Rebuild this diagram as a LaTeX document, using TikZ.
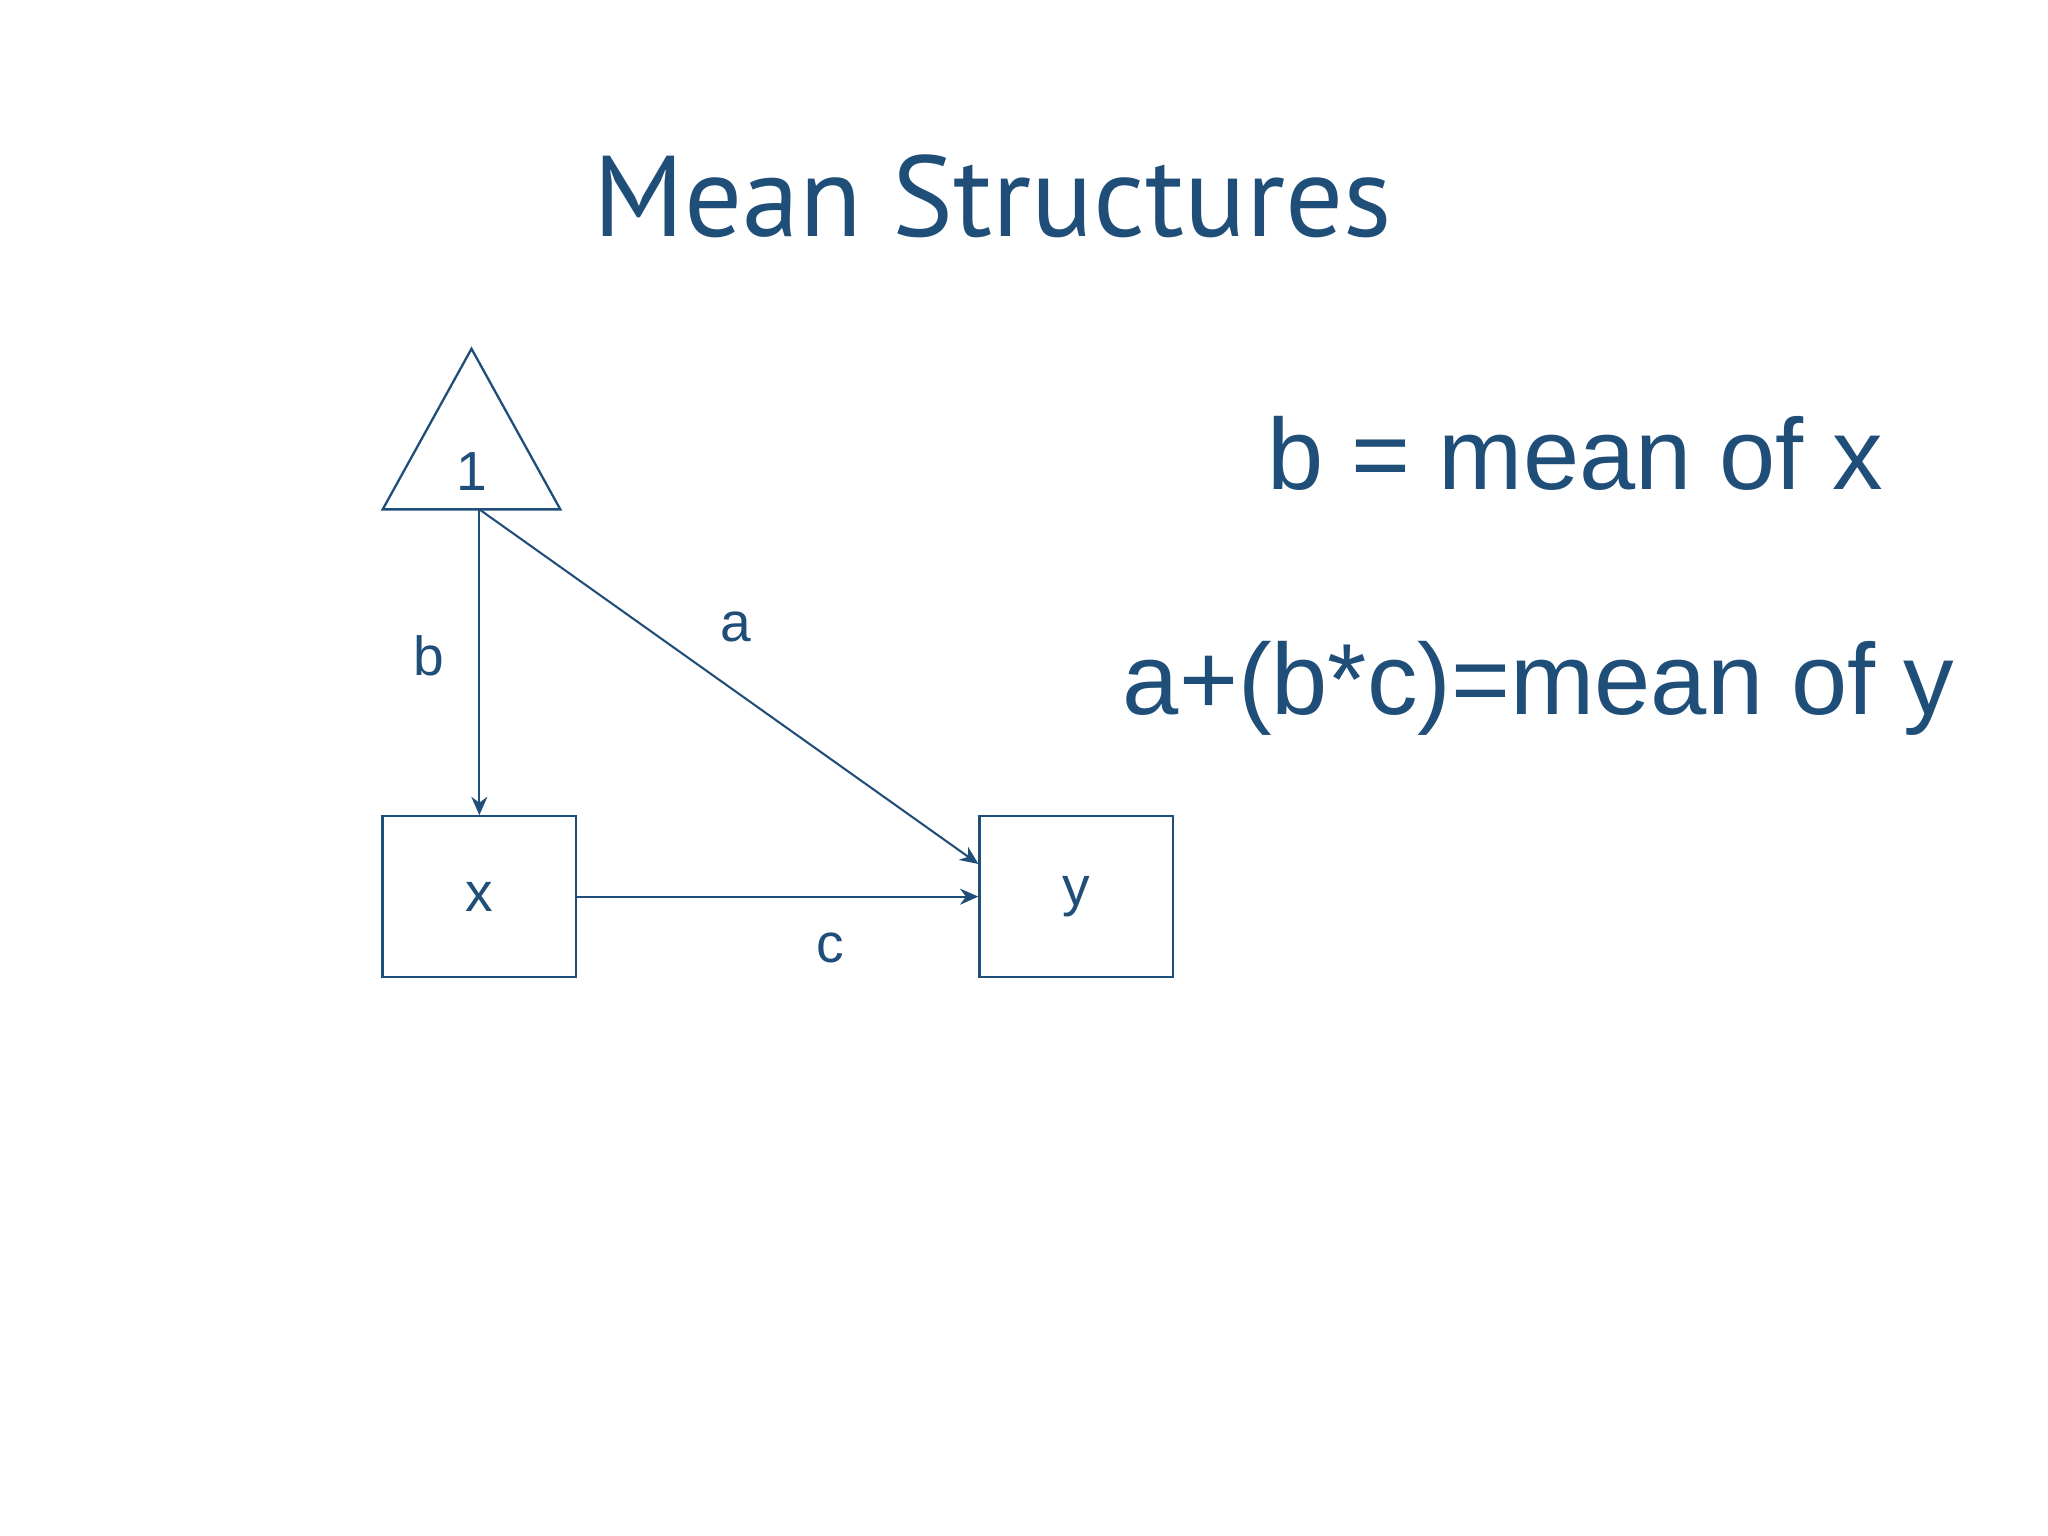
\documentclass[tikz,border=0pt]{standalone}
\usepackage{fontspec}
\setmainfont{Liberation Sans}
\newfontfamily\titlefont{PT Sans}
\usetikzlibrary{arrows.meta}
\definecolor{dblue}{HTML}{1F4E79}
\begin{document}
\begin{tikzpicture}[x=0.01cm,y=-0.01cm,
  box/.style={draw=dblue,line width=0.5pt,minimum width=1.48cm,minimum height=1.23cm,inner sep=0pt,text=dblue,font=\fontsize{12}{14}\selectfont},
  conn/.style={draw=dblue,line width=0.45pt,-{Stealth[length=4pt,width=3.5pt]}},
  lbl/.style={text=dblue,font=\fontsize{12}{14}\selectfont}]
\useasboundingbox[fill=white] (0,0) rectangle (1568,1176);
\node[text=dblue,font=\titlefont\fontsize{25}{30}\selectfont] (title) at (760,150) {Mean Structures};
\node[text=dblue,font=\fontsize{22}{26}\selectfont] (eq1) at (1206,347) {b = mean of x};
\node[text=dblue,font=\fontsize{22}{26}\selectfont] (eq2) at (1178,527) {a+(b*c)=mean of y};
\coordinate (apex) at (361,267);
\coordinate (bl) at (293,390);
\coordinate (br) at (429,390);
\coordinate (one) at (367,390);
\draw[dblue,line width=0.5pt] (apex) -- (br) -- (bl) -- cycle;
\node[lbl] (onelbl) at (361,361) {1};
\node[box] (x) at (367,686.5) {x};
\node[box] (y) at (824,686.5) {y};
\draw[conn] (one) -- (x.north -| one);
\draw[conn] (one) -- ([yshift=0.25cm]y.west);
\draw[conn] (x.east) -- (y.west);
\node[lbl] (lb) at (328,502) {b};
\node[lbl] (la) at (563,480) {a};
\node[lbl] (lc) at (636,726) {c};
\end{tikzpicture}
\end{document}
